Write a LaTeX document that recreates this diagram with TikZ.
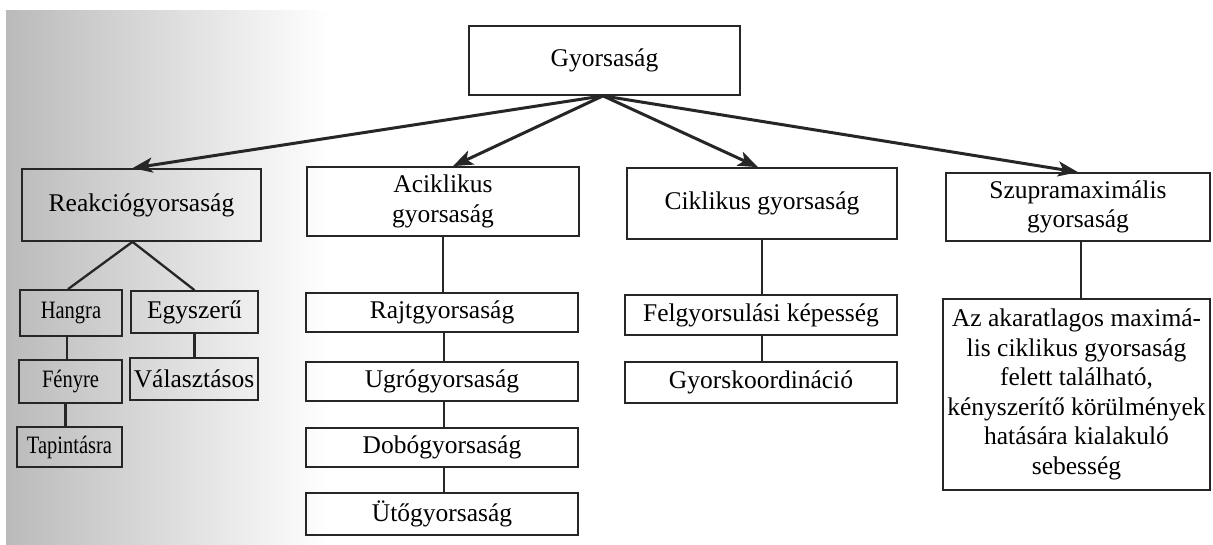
\documentclass[tikz,border=0pt]{standalone}
\usepackage{fontspec}
\setmainfont{Liberation Serif}
\newfontfamily\condfont[FakeStretch=0.82]{Liberation Serif}
\usetikzlibrary{arrows.meta,calc}
\begin{document}
\begin{tikzpicture}[x=1pt,y=-1pt,
  box/.style={draw=black!85, line width=1.7pt, inner sep=0pt, align=center,
    font=\fontsize{25.5}{29.5}\selectfont},
  condbox/.style={box, font=\condfont\fontsize{25}{29}\selectfont},
  arr/.style={draw=black!85, line width=3pt, -{Stealth[length=20pt,width=15pt,inset=5pt]}},
  conn/.style={draw=black!85, line width=2.3pt}]
\useasboundingbox (0,0) rectangle (1213,544);
\fill[white] (0,0) rectangle (1213,544);
\shade[left color=black!27, right color=white] (6,10) rectangle (330,544);

% top
\node[box, minimum width=271pt, minimum height=69pt] (G) at (604.5,60.5) {Gyorsaság};

% second level
\node[box, minimum width=239pt, minimum height=72pt] (R) at (141.5,205) {Reakciógyorsaság};
\node[box, minimum width=272pt, minimum height=69pt] (A) at (443,201.5) {Aciklikus\\gyorsaság};
\node[box, minimum width=270pt, minimum height=71pt] (C) at (762,203.5) {Ciklikus gyorsaság};
\node[box, minimum width=264pt, minimum height=68pt] (S) at (1078,207) {Szupramaximális\\gyorsaság};

% reaction branch
\node[condbox, minimum width=102pt, minimum height=46pt] (H) at (71,313) {Hangra};
\node[box, minimum width=127pt, minimum height=42pt] (E) at (194.5,312) {Egyszerű};
\node[condbox, minimum width=103pt, minimum height=43pt] (F) at (70.5,381.5) {Fényre};
\node[box, minimum width=128pt, minimum height=42pt] (V) at (194,379) {Választásos};
\node[condbox, minimum width=105pt, minimum height=40pt] (T) at (69.5,447) {Tapintásra};

% acyclic branch
\node[box, minimum width=272pt, minimum height=39pt] (Ra) at (442,312.5) {Rajtgyorsaság};
\node[box, minimum width=272pt, minimum height=39pt] (U) at (442,381.5) {Ugrógyorsaság};
\node[box, minimum width=272pt, minimum height=39pt] (D) at (442,447.5) {Dobógyorsaság};
\node[box, minimum width=272pt, minimum height=42pt] (Ut) at (442,514) {Ütőgyorsaság};

% cyclic branch
\node[box, minimum width=272pt, minimum height=40pt] (Fe) at (761,315) {Felgyorsulási képesség};
\node[box, minimum width=272pt, minimum height=41pt] (Gk) at (761,382.5) {Gyorskoordináció};

% supramaximal branch
\node[box, minimum width=267pt, minimum height=191pt] (Sz) at (1076.5,394.5)
  {Az akaratlagos maximá-\\lis ciklikus gyorsaság\\felett található,\\kényszerítő körülmények\\hatására kialakuló\\sebesség};

% arrows from top
\coordinate (gb) at ([xshift=-1.5pt]G.south);
\draw[arr] (gb) -- ([xshift=-9pt]R.north);
\draw[arr] (gb) -- ([xshift=10pt]A.north);
\draw[arr] (gb) -- ([xshift=-4pt]C.north);
\draw[arr] (gb) -- (S.north);

% reaction connectors
\coordinate (rs) at ([xshift=-9pt]R.south);
\draw[conn] (rs) -- ([xshift=-3pt]H.north);
\draw[conn] (rs) -- (E.north);
\draw[conn] ([xshift=-4pt]H.south) -- ([xshift=-4pt]H.south |- F.north);
\draw[conn] ([xshift=-5pt]F.south) -- ([xshift=-5pt]F.south |- T.north);
\draw[conn] (E.south) -- (E.south |- V.north);

% acyclic connectors
\draw[conn] (A.south) -- (A.south |- Ra.north);
\draw[conn] ([xshift=2pt]Ra.south) -- ([xshift=2pt]Ra.south |- U.north);
\draw[conn] ([xshift=2pt]U.south) -- ([xshift=2pt]U.south |- D.north);
\draw[conn] ([xshift=2pt]D.south) -- ([xshift=2pt]D.south |- Ut.north);

% cyclic connectors
\draw[conn] (C.south) -- (C.south |- Fe.north);
\draw[conn] ([xshift=1pt]Fe.south) -- ([xshift=1pt]Fe.south |- Gk.north);

% supramaximal connector
\draw[conn] ([xshift=3pt]S.south) -- ([xshift=3pt]S.south |- Sz.north);
\end{tikzpicture}
\end{document}
